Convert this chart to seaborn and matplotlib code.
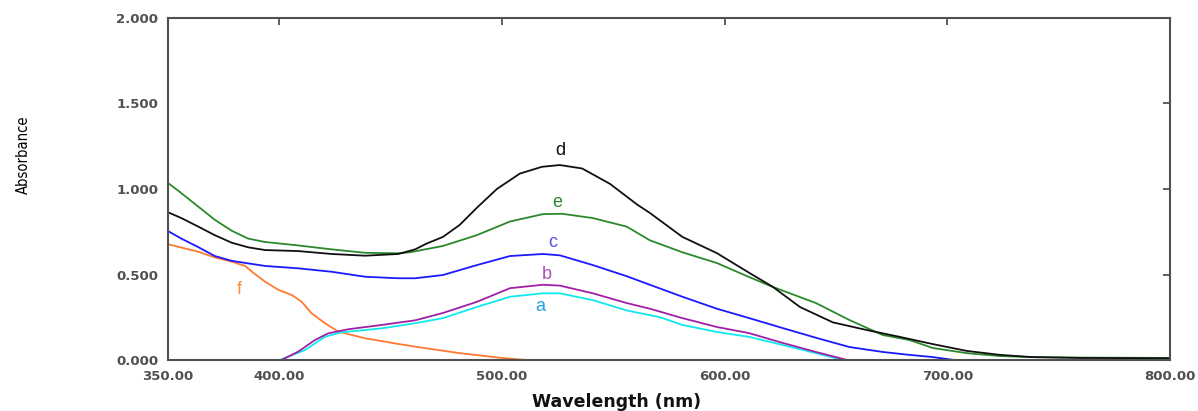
import numpy as np
import pandas as pd
import matplotlib
matplotlib.use("Agg")
import matplotlib.pyplot as plt
import seaborn as sns

# ---------------- data ----------------
a_wl = [400.3, 405, 411.5, 420.5, 428, 446, 461, 473.5, 488.7, 503.6, 518.4, 526, 540.8, 556, 571, 581, 596.5, 611, 626, 641, 653]
a_A = [0.0, 0.025, 0.058, 0.136, 0.162, 0.185, 0.215, 0.245, 0.31, 0.37, 0.39, 0.39, 0.35, 0.29, 0.25, 0.205, 0.164, 0.135, 0.088, 0.04, 0.0]

b_wl = [401, 408.5, 416, 422, 431, 446, 461, 473.5, 488.7, 503.6, 518.4, 526, 540.8, 556, 566.4, 581, 596.5, 611, 626, 641, 655]
b_A = [0.0, 0.049, 0.117, 0.156, 0.18, 0.205, 0.232, 0.275, 0.34, 0.42, 0.44, 0.435, 0.39, 0.333, 0.30, 0.245, 0.193, 0.157, 0.1, 0.047, 0.0]

c_wl = [350, 356, 363.6, 371, 378.6, 386, 393.6, 408.5, 423.5, 438.5, 453.4, 461, 473.5, 488.7, 503.6, 518.4, 526, 540.8, 556, 566.4, 581, 596.5, 611, 626, 641, 656, 671, 683, 693.5, 703]
c_A = [0.754, 0.71, 0.66, 0.608, 0.58, 0.565, 0.55, 0.536, 0.516, 0.487, 0.478, 0.478, 0.497, 0.555, 0.608, 0.62, 0.612, 0.555, 0.49, 0.44, 0.37, 0.30, 0.245, 0.187, 0.13, 0.076, 0.047, 0.03, 0.017, 0.0]

d_wl = [350, 356, 363.6, 371, 378.6, 386, 393.6, 408.5, 423.5, 438.5, 453.4, 461, 466, 473.5, 481, 488.7, 497.7, 508, 518, 526, 536, 548.5, 560.6, 566.4, 581, 596.5, 611, 621.7, 633.8, 648.6, 663.9, 678.7, 693.5, 708.8, 723.6, 738, 760, 800]
d_A = [0.864, 0.83, 0.78, 0.73, 0.686, 0.659, 0.643, 0.637, 0.62, 0.61, 0.62, 0.647, 0.68, 0.72, 0.79, 0.89, 1.0, 1.09, 1.13, 1.14, 1.12, 1.03, 0.91, 0.86, 0.72, 0.625, 0.51, 0.427, 0.31, 0.22, 0.175, 0.135, 0.093, 0.053, 0.03, 0.017, 0.012, 0.01]

e_wl = [350, 354.6, 363.6, 371, 378.6, 386, 393.6, 408.5, 423.5, 438.5, 453.4, 458.7, 473.5, 488.7, 503.6, 518.4, 527, 540.8, 556, 566.4, 581, 596.5, 611, 621.7, 641, 656, 671, 683, 693.5, 708.8, 723.6, 738, 760, 800]
e_A = [1.035, 0.99, 0.897, 0.82, 0.756, 0.71, 0.69, 0.67, 0.647, 0.627, 0.624, 0.63, 0.667, 0.73, 0.81, 0.853, 0.855, 0.83, 0.78, 0.70, 0.63, 0.567, 0.485, 0.427, 0.333, 0.234, 0.146, 0.117, 0.07, 0.04, 0.023, 0.017, 0.014, 0.012]

f_wl = [350, 363.6, 371, 378.6, 384.6, 388.6, 393.6, 399.6, 405.6, 410, 414.5, 420.5, 426.5, 438.5, 453.4, 461, 481, 500, 511, 522]
f_A = [0.677, 0.633, 0.60, 0.575, 0.55, 0.507, 0.458, 0.41, 0.38, 0.341, 0.273, 0.215, 0.166, 0.127, 0.094, 0.078, 0.04, 0.012, 0.0, 0.0]

series_names = ["f", "a", "b", "c", "e", "d"]
series_wl = {"a": a_wl, "b": b_wl, "c": c_wl, "d": d_wl, "e": e_wl, "f": f_wl}
series_A = {"a": a_A, "b": b_A, "c": c_A, "d": d_A, "e": e_A, "f": f_A}

line_colors = {"a": "#10e8f0", "b": "#a020a8", "c": "#1a1aff", "d": "#101010", "e": "#2a8a2a", "f": "#ff7a30"}
label_colors = {"a": "#1fa0e8", "b": "#b050b8", "c": "#5a50e8", "d": "#101010", "e": "#2a8a2a", "f": "#ff8a45"}

# label positions (wavelength, absorbance)
label_wl = {"d": 526, "e": 524.7, "c": 523, "b": 520, "a": 517, "f": 382}
label_A = {"d": 1.228, "e": 0.92, "c": 0.686, "b": 0.50, "a": 0.315, "f": 0.41}

x_ticks = [350, 400, 500, 600, 700, 800]
y_ticks = [0.0, 0.5, 1.0, 1.5, 2.0]

# ---------------- plot ----------------
sns.set_style("white")
plt.rcParams["font.family"] = ["DejaVu Sans"]

rows = []
for s in series_names:
    for w, v in zip(series_wl[s], series_A[s]):
        rows.append({"Wavelength": w, "Absorbance": v, "sample": s})
df = pd.DataFrame(rows)

fig = plt.figure(figsize=(11.98, 4.11), dpi=100)
ax = fig.add_axes([168 / 1198, 1 - 360 / 411, (1170 - 168) / 1198, (360 - 18) / 411])

sns.lineplot(data=df, x="Wavelength", y="Absorbance", hue="sample",
             hue_order=series_names, palette=line_colors, estimator=None,
             sort=False, linewidth=1.3, legend=False, ax=ax)

for s in series_names:
    ax.text(label_wl[s], label_A[s], s, color=label_colors[s], fontsize=13,
            ha="center", va="center", family=["Liberation Sans", "DejaVu Sans"])

ax.set_xlim(350, 800)
ax.set_ylim(0, 2.0)
ax.set_xticks(x_ticks)
ax.set_yticks(y_ticks)
ax.set_xticklabels([f"{t:.2f}" for t in x_ticks])
ax.set_yticklabels([f"{t:.3f}" for t in y_ticks])

ax.tick_params(axis="both", direction="in", length=5, width=1.2, color="#444444",
               top=True, right=True, labelsize=9.5, labelcolor="#505050", pad=7)
for lab in ax.get_xticklabels() + ax.get_yticklabels():
    lab.set_fontweight("bold")

for sp in ax.spines.values():
    sp.set_color("#505050")
    sp.set_linewidth(1.5)

ax.set_xlabel("")
ax.set_ylabel("")
fig.text(617 / 1198, 1 - 402 / 411, "Wavelength (nm)", ha="center", va="center",
         fontsize=12.5, fontweight="bold", color="#111111")
fig.text(23 / 1198, 1 - 155 / 411, "Absorbance", rotation=90, ha="center", va="center",
         fontsize=10.5, color="#000000", fontstretch="condensed",
         family=["Liberation Sans Narrow", "DejaVu Sans"])

fig.savefig("out.png", dpi=100)
